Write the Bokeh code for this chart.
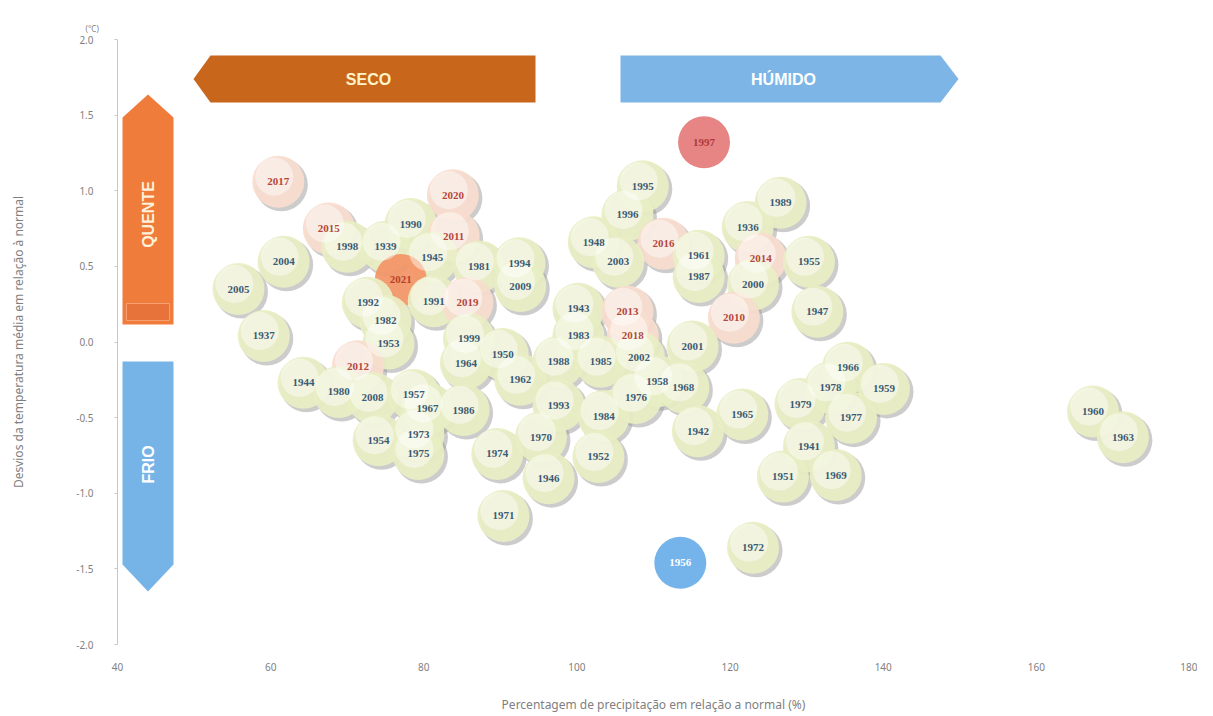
import math
from bokeh.plotting import figure
from bokeh.models import ColumnDataSource, FixedTicker, NumeralTickFormatter, Label
from bokeh.embed import file_html
from bokeh.resources import INLINE
from bokeh.core.properties import value

# ---------------- data ----------------
anos = [2017, 2020, 2015, 1990, 2011, 1998, 1939, 1945, 2004, 1981,
        1994, 2005, 2021, 2009, 1992, 1991, 2019, 1982, 1937, 1953,
        1999, 1950, 1964, 2012, 1962, 1944, 1980, 2008, 1957, 1967,
        1986, 1954, 1973, 1975, 1974, 1971, 1997, 1995, 1996, 1989,
        1936, 1948, 2016, 2003, 1961, 2014, 1955, 1987, 2000, 1943,
        2013, 2010, 1947, 1983, 2018, 2001, 2002, 1988, 1985, 1966,
        1958, 1968, 1978, 1959, 1976, 1979, 1993, 1984, 1965, 1977,
        1942, 1970, 1941, 1952, 1946, 1951, 1969, 1960, 1963, 1956,
        1972]
precip = [61.0, 83.8, 67.6, 78.3, 83.9, 70.0, 75.0, 81.1, 61.7, 87.2,
          92.5, 55.8, 77.0, 92.6, 72.7, 81.3, 85.7, 75.0, 59.1, 75.4,
          85.9, 90.3, 85.5, 71.4, 92.6, 64.3, 68.9, 73.3, 78.7, 80.5,
          85.2, 74.1, 79.3, 79.3, 89.6, 90.4, 116.6, 108.6, 106.6, 126.6,
          122.3, 102.2, 111.3, 105.4, 115.9, 124.0, 130.3, 115.9, 123.0, 100.2,
          106.6, 120.5, 131.4, 100.2, 107.3, 115.1, 108.1, 97.6, 103.1, 135.4,
          110.5, 113.9, 133.1, 140.1, 107.7, 129.2, 97.6, 103.5, 121.6, 135.8,
          115.8, 95.3, 130.3, 102.8, 96.3, 126.9, 133.8, 167.4, 171.3, 113.5,
          123.0]
temp = [1.06, 0.97, 0.75, 0.78, 0.70, 0.63, 0.63, 0.56, 0.53, 0.50,
        0.52, 0.35, 0.41, 0.37, 0.26, 0.27, 0.26, 0.14, 0.04, -0.01,
        0.02, -0.08, -0.14, -0.16, -0.25, -0.27, -0.33, -0.37, -0.35, -0.44,
        -0.45, -0.65, -0.61, -0.74, -0.74, -1.15, 1.32, 1.03, 0.84, 0.92,
        0.76, 0.66, 0.65, 0.53, 0.57, 0.55, 0.53, 0.43, 0.38, 0.22,
        0.20, 0.16, 0.20, 0.04, 0.04, -0.03, -0.10, -0.13, -0.13, -0.17,
        -0.26, -0.30, -0.30, -0.31, -0.37, -0.41, -0.42, -0.49, -0.48, -0.50,
        -0.59, -0.63, -0.69, -0.76, -0.90, -0.89, -0.88, -0.46, -0.63, -1.46,
        -1.36]

destaques = {2021: "laranja", 1997: "vermelho", 1956: "azul"}
recentes = list(range(2010, 2021))

x_ticks = [40, 60, 80, 100, 120, 140, 160, 180]
y_ticks = [-2.0, -1.5, -1.0, -0.5, 0.0, 0.5, 1.0, 1.5, 2.0]

# ---------------- styles ----------------
FILL = {"normal": "#e8eec4", "recente": "#f8ddcd", "laranja": "#f39466",
        "vermelho": "#e57b7b", "azul": "#6aaeea"}
TXT = {"normal": "#3d5b74", "recente": "#b5473b", "laranja": "#b8402e",
       "vermelho": "#b03a3a", "azul": "#ffffff"}

def grupo(a):
    if a in destaques:
        return destaques[a]
    if a in recentes:
        return "recente"
    return "normal"

grupos = [grupo(a) for a in anos]

FW, FH = 1072, 605
XR, YR = (40, 180), (-2, 2)
px_x = (XR[1] - XR[0]) / FW
px_y = (YR[1] - YR[0]) / FH

plain = ("laranja", "vermelho", "azul")
src = ColumnDataSource(dict(
    x=precip, y=temp, ano=[str(a) for a in anos],
    xs=[v + 3 * px_x for v in precip], ys=[v - 3 * px_y for v in temp],
    xh=[v - 4 * px_x for v in precip], yh=[v + 5 * px_y for v in temp],
    fill=[FILL[g] for g in grupos], tc=[TXT[g] for g in grupos],
    ha=[0.0 if g in plain else 0.45 for g in grupos],
    sa=[0.0 if g in plain else 0.5 for g in grupos],
))

p = figure(frame_width=FW, frame_height=FH, x_range=XR, y_range=YR,
           output_backend="svg", toolbar_location=None,
           min_border_left=117, min_border_right=8, min_border_top=39,
           min_border_bottom=64, background_fill_color="white",
           border_fill_color="white")
p.outline_line_color = None
p.grid.visible = False

p.title.text = "(°C)"
p.title.align = "left"
p.title.offset = -32
p.title.standoff = 12
p.title.text_font = "Noto Sans"
p.title.text_font_size = "8px"
p.title.text_font_style = "normal"
p.title.text_color = "#7f7f7f"

# shadows, bubbles, highlights
p.scatter("xs", "ys", source=src, size=53, marker="circle",
          fill_color="#9a9a9a", fill_alpha="sa", line_color=None)
p.scatter("x", "y", source=src, size=52, marker="circle",
          fill_color="fill", fill_alpha=0.93, line_color=None)
p.scatter("xh", "yh", source=src, size=38, marker="circle",
          fill_color="white", fill_alpha="ha", line_color=None)
p.text("x", "y", text="ano", source=src, text_color="tc",
       text_font=value("Liberation Serif"), text_font_style="bold",
       text_font_size="11px", text_align="center", text_baseline="middle")

# ---------------- arrows ----------------
def xd(px):
    return XR[0] + (px - 117) * px_x

def yd(py):
    return YR[1] - (py - 40) * px_y

seco = ([xd(535), xd(210), xd(193), xd(210), xd(535)],
        [yd(56), yd(56), yd(79.5), yd(103), yd(103)])
humido = ([xd(620), xd(940), xd(958), xd(940), xd(620)],
          [yd(56), yd(56), yd(79.5), yd(103), yd(103)])
quente = ([xd(122), xd(122), xd(147.5), xd(173), xd(173)],
          [yd(325), yd(118), yd(95), yd(118), yd(325)])
frio = ([xd(122), xd(122), xd(147.5), xd(173), xd(173)],
        [yd(362), yd(565), yd(592), yd(565), yd(362)])

p.patch(*seco, fill_color="#c8661c", line_color=None)
p.patch(*humido, fill_color="#7cb5e6", line_color=None)
p.patch(*quente, fill_color="#ef7c3a", line_color=None)
p.patch(*frio, fill_color="#76b4e8", line_color=None)
p.quad(left=xd(126), right=xd(169), bottom=yd(321), top=yd(304),
       fill_color="#e8733a", line_color="#f4a070", line_width=1)

def arrow_text(x, y, t, col, ang=0.0):
    p.add_layout(Label(x=x, y=y, text=t, text_color=col, angle=ang,
                       text_font="Liberation Sans", text_font_style="bold",
                       text_font_size="16px", text_align="center",
                       text_baseline="middle"))

arrow_text(xd(368), yd(80), "SECO", "#fff4c8")
arrow_text(xd(783), yd(80), "HÚMIDO", "#ffffff")
arrow_text(xd(148), yd(215), "QUENTE", "#fff0d8", math.pi / 2)
arrow_text(xd(148), yd(465), "FRIO", "#ffffff", math.pi / 2)

# ---------------- axes ----------------
GR = "#7f7f7f"
ya = p.yaxis[0]
ya.ticker = FixedTicker(ticks=y_ticks)
ya.formatter = NumeralTickFormatter(format="0.0")
ya.axis_line_color = "#c8c8c8"
ya.major_tick_line_color = "#c8c8c8"
ya.major_tick_out = 3
ya.major_tick_in = 0
ya.minor_tick_line_color = None
ya.major_label_standoff = 21
ya.major_label_text_font = "Noto Sans"
ya.major_label_text_font_size = "10px"
ya.major_label_text_color = GR
ya.axis_label = "Desvios da temperatura média em relação à normal"
ya.axis_label_text_font = "Noto Sans"
ya.axis_label_text_font_style = "normal"
ya.axis_label_text_font_size = "12px"
ya.axis_label_text_color = GR
ya.axis_label_standoff = 46

xa = p.xaxis[0]
xa.ticker = FixedTicker(ticks=x_ticks)
xa.axis_line_color = None
xa.major_tick_line_color = None
xa.minor_tick_line_color = None
xa.major_label_standoff = 12
xa.major_label_text_font = "Noto Sans"
xa.major_label_text_font_size = "10px"
xa.major_label_text_color = GR
xa.axis_label = "Percentagem de precipitação em relação a normal (%)"
xa.axis_label_text_font = "Noto Sans"
xa.axis_label_text_font_style = "normal"
xa.axis_label_text_font_size = "12px"
xa.axis_label_text_color = GR
xa.axis_label_standoff = 22

open("out.html", "w").write(file_html(p, INLINE))
